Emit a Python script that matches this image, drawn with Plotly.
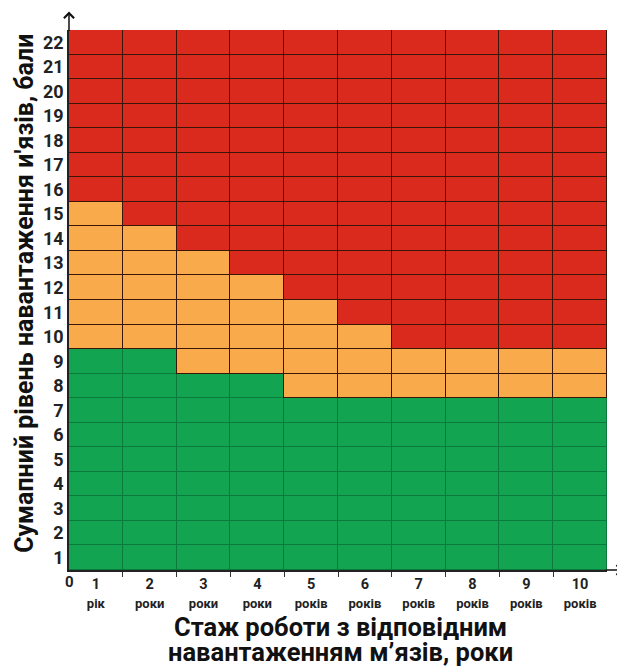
import plotly.graph_objects as go

# ---- data ----
years = [1, 2, 3, 4, 5, 6, 7, 8, 9, 10]
year_words = ["рік", "роки", "роки", "роки", "років", "років", "років", "років", "років", "років"]
levels = list(range(1, 23))            # score levels 1..22
green_max = [9, 9, 8, 8, 7, 7, 7, 7, 7, 7]       # highest level that is green (safe)
orange_max = [15, 14, 13, 12, 11, 10, 9, 9, 9, 9]  # highest level that is orange (risk)
x_title_lines = ["Стаж роботи з відповідним", "навантаженням м’язів, роки"]
y_title = "Сумапний рівень навантаження и'язів, бали"

GREEN = "#13A452"
ORANGE = "#F9AA4A"
RED = "#DA2A1D"
LINE_DARK = "#3a1608"
LINE_GREEN = "#0c7a3a"

xcenters = [y - 0.5 for y in years]

fig = go.Figure()
for lvl in levels:
    colors, lcols = [], []
    for i in range(len(years)):
        if lvl <= green_max[i]:
            colors.append(GREEN); lcols.append(LINE_GREEN)
        elif lvl <= orange_max[i]:
            colors.append(ORANGE); lcols.append(LINE_DARK)
        else:
            colors.append(RED); lcols.append(LINE_DARK)
    fig.add_trace(go.Bar(
        x=xcenters, y=[1] * len(years), width=1,
        marker=dict(color=colors, line=dict(color=lcols, width=1)),
        showlegend=False, hoverinfo="skip"))

tick_font = "Roboto, Liberation Sans, sans-serif"
title_font = "Roboto, Liberation Sans, Arial, sans-serif"

fig.update_layout(
    barmode="stack", bargap=0,
    width=617, height=658,
    margin=dict(l=61, r=18, t=22, b=96),
    plot_bgcolor="white", paper_bgcolor="white",
    xaxis=dict(
        range=[0, 10], showgrid=False, zeroline=False, automargin=False,
        showline=True, linecolor="#222", linewidth=1.5,
        tickvals=xcenters,
        ticktext=[f"<b>{y}</b><br><span style='font-size:13px'><b>{w}</b></span>" for y, w in zip(years, year_words)],
        ticks="", tickfont=dict(family=tick_font, size=14.5, color="#222"),
        minor=dict(tickvals=years[:-1], ticks="outside", ticklen=5, tickcolor="#333", tickwidth=1),
    ),
    yaxis=dict(
        range=[0, 22], showgrid=False, zeroline=False, automargin=False,
        showline=True, linecolor="#222", linewidth=1.5,
        tickvals=[l - 0.5 for l in levels], ticktext=[f"<b>{l}</b>" for l in levels],
        ticks="", tickfont=dict(family=tick_font, size=18, color="#222"),
    ),
)

# axis titles
for line, ypos in zip(x_title_lines, [-0.106, -0.152]):
    fig.add_annotation(x=0.504, y=ypos, xref="paper", yref="paper", text=f"<b>{line}</b>",
                       showarrow=False, xanchor="center", yanchor="middle",
                       font=dict(family=title_font, size=25.5, color="#111"))
fig.add_annotation(x=-0.082, y=0.513, xref="paper", yref="paper", text=f"<b>{y_title}</b>",
                   showarrow=False, xanchor="center", yanchor="middle", textangle=-90,
                   font=dict(family=title_font, size=25, color="#111"))

# axis arrows and origin label
fig.add_annotation(x=0, y=22.75, ax=0, ay=21.9, xref="x", yref="y", axref="x", ayref="y",
                   showarrow=True, arrowhead=4, arrowsize=1.3, arrowwidth=1.5, arrowcolor="#111", text="")
fig.add_annotation(x=10.3, y=0, ax=9.95, ay=0, xref="x", yref="y", axref="x", ayref="y",
                   showarrow=True, arrowhead=4, arrowsize=1.3, arrowwidth=1.5, arrowcolor="#111", text="")
fig.add_annotation(x=0, y=0, xref="x", yref="y", text="<b>0</b>", showarrow=False,
                   xanchor="center", yanchor="top", yshift=-1,
                   font=dict(family=tick_font, size=15, color="#222"))

fig.write_html("out.html")
